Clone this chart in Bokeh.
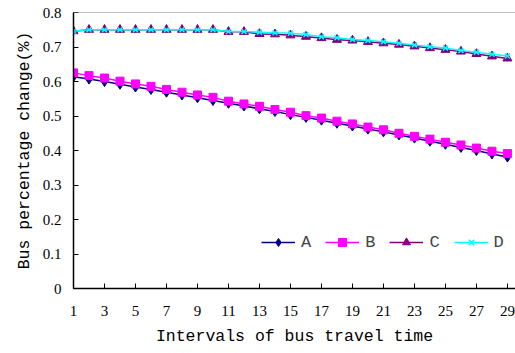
from bokeh.plotting import figure
from bokeh.models import FixedTicker, Span, Legend, LegendItem, Range1d
from bokeh.embed import file_html
from bokeh.resources import INLINE

x = list(range(1, 30))
A = [0.614, 0.607, 0.600, 0.592, 0.584, 0.577, 0.569, 0.561, 0.553, 0.545, 0.537, 0.529, 0.521, 0.513, 0.504,
     0.496, 0.488, 0.479, 0.471, 0.462, 0.454, 0.445, 0.436, 0.427, 0.418, 0.409, 0.400, 0.390, 0.381]
B = [0.625, 0.617, 0.610, 0.601, 0.593, 0.586, 0.577, 0.569, 0.561, 0.554, 0.543, 0.535, 0.528, 0.519, 0.511,
     0.501, 0.494, 0.485, 0.477, 0.468, 0.460, 0.450, 0.441, 0.433, 0.424, 0.416, 0.407, 0.398, 0.391]
C = [0.746, 0.750, 0.750, 0.750, 0.750, 0.750, 0.750, 0.750, 0.750, 0.750, 0.744, 0.744, 0.738, 0.737, 0.734,
     0.730, 0.726, 0.721, 0.719, 0.715, 0.711, 0.707, 0.702, 0.697, 0.692, 0.687, 0.680, 0.673, 0.667]
D = [0.746, 0.750, 0.750, 0.750, 0.750, 0.750, 0.750, 0.750, 0.750, 0.750, 0.745, 0.745, 0.743, 0.741, 0.740,
     0.736, 0.730, 0.727, 0.722, 0.719, 0.715, 0.711, 0.706, 0.701, 0.697, 0.690, 0.685, 0.679, 0.674]
x_ticks = list(range(1, 30, 2))
y_ticks = [0, 0.1, 0.2, 0.3, 0.4, 0.5, 0.6, 0.7, 0.8]

p = figure(width=515, height=353, output_backend="svg", toolbar_location=None,
           x_range=Range1d(1, 29.52), y_range=Range1d(0, 0.8),
           min_border_left=73, min_border_right=0, min_border_top=12, min_border_bottom=65)
p.outline_line_color = None
p.grid.grid_line_color = None
p.background_fill_color = "white"

for ax in (p.xaxis[0], p.yaxis[0]):
    ax.axis_line_color = "black"
    ax.axis_line_width = 1.5
    ax.major_tick_line_color = "black"
    ax.major_tick_in = 5
    ax.major_tick_out = 0
    ax.minor_tick_line_color = None
    ax.major_label_text_font = "Liberation Serif"
    ax.major_label_text_font_size = "15px"
    ax.major_label_text_color = "black"
    ax.axis_label_text_font = "Liberation Mono"
    ax.axis_label_text_font_size = "16.5px"
    ax.axis_label_text_font_style = "normal"
    ax.axis_label_text_color = "black"

p.xaxis.ticker = FixedTicker(ticks=x_ticks)
p.yaxis.ticker = FixedTicker(ticks=y_ticks)
p.yaxis.major_label_overrides = {0: "0"}
p.xaxis.axis_label = "Intervals of bus travel time"
p.yaxis.axis_label = "Bus percentage change(%)"
p.xaxis.major_label_standoff = 17
p.xaxis.axis_label_standoff = 8
p.yaxis.major_label_standoff = 12
p.yaxis.axis_label_standoff = 6

p.add_layout(Span(location=0.8, dimension="width", line_color="#808080", line_width=1.2))

la = p.line(x, A, line_color="#000080", line_width=1.5)
ma = p.scatter(x, A, marker="diamond", size=10, fill_color="#000080", line_color="#000080")
lb = p.line(x, B, line_color="#FF00FF", line_width=1.5)
mb = p.scatter(x, B, marker="square", size=8, fill_color="#FF00FF", line_color="#FF00FF")
lc = p.line(x, C, line_color="#800080", line_width=1.5)
mc = p.scatter(x, C, marker="triangle", size=9, fill_color="#800080", line_color="#800080")
ld = p.line(x, D, line_color="#00FFFF", line_width=1.5)
md = p.scatter(x, D, marker="x", size=7, line_color="#00FFFF", line_width=1.5)

legend = Legend(items=[LegendItem(label="A", renderers=[la, ma]),
                       LegendItem(label="B", renderers=[lb, mb]),
                       LegendItem(label="C", renderers=[lc, mc]),
                       LegendItem(label="D", renderers=[ld, md])],
                orientation="horizontal", location=(188, 36),
                border_line_color=None, background_fill_alpha=0,
                padding=0, margin=0, spacing=14, glyph_width=34, glyph_height=20,
                label_width=10, label_standoff=6,
                label_text_font="Liberation Mono", label_text_font_size="17px")
p.add_layout(legend)

open("out.html", "w").write(file_html(p, INLINE))
